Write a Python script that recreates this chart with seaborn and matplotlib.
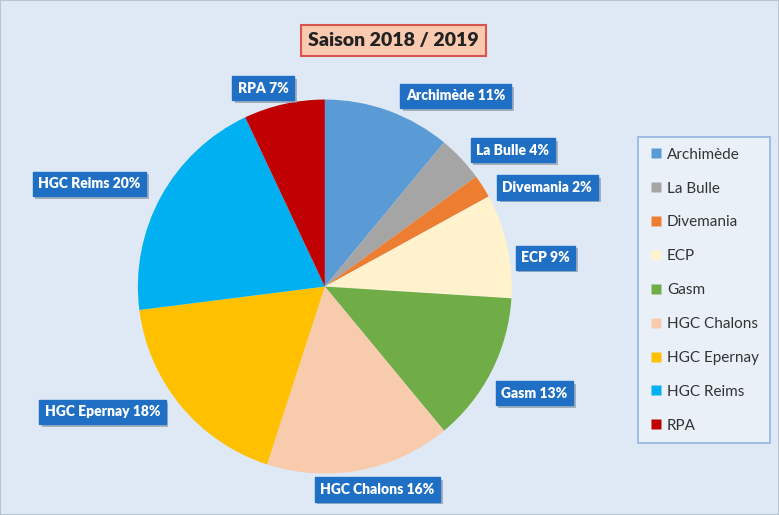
import matplotlib
matplotlib.use("Agg")
import matplotlib.pyplot as plt
import matplotlib.patheffects as pe
import seaborn as sns
from matplotlib.patches import Rectangle
from matplotlib.lines import Line2D

categories = ["Archimède", "La Bulle", "Divemania", "ECP", "Gasm",
              "HGC Chalons", "HGC Epernay", "HGC Reims", "RPA"]
values = [11, 4, 2, 9, 13, 16, 18, 20, 7]
colors = ["#5b9bd5", "#a5a5a5", "#ed7d31", "#fff2cc", "#70ad47",
          "#f8cbad", "#ffc000", "#00b0f0", "#c00000"]
title = "Saison 2018 / 2019"

# label positions (layout, in pie radius units)
label_pos = [(0.70, 1.02), (1.005, 0.73), (1.19, 0.53), (1.18, 0.155),
             (1.12, -0.57), (0.28, -1.085), (-1.19, -0.67), (-1.26, 0.55),
             (-0.33, 1.06)]

sns.set_theme(style="white")
plt.rcParams["font.family"] = ["Lato", "DejaVu Sans"]

bg = "#dfe9f5"
fig = plt.figure(figsize=(7.79, 5.15), dpi=100, facecolor=bg)
fig.patches.append(Rectangle((0, 0), 1, 1, transform=fig.transFigure,
                             fill=False, edgecolor="#b8c4d0", linewidth=1.5))

ax = fig.add_axes([0.009, 0.0078, 0.816, 0.926])
ax.set_facecolor("none")
palette = sns.color_palette(colors)
wedges, _ = ax.pie(values, colors=palette, startangle=90, counterclock=False,
                   radius=1.0, wedgeprops=dict(edgecolor="none"))
ax.set_xlim(-1.7, 1.7)
ax.set_ylim(-1.2, 1.35)
ax.set_aspect("auto")
ax.axis("off")

for cat, v, (x, y) in zip(categories, values, label_pos):
    t = ax.text(x, y, f"{cat} {v}%", ha="center", va="center", color="white",
                fontsize=10, fontweight="heavy",
                bbox=dict(boxstyle="square,pad=0.4", facecolor="#1f6fc4",
                          edgecolor="#1f6fc4"))
    t.get_bbox_patch().set_path_effects([
        pe.SimplePatchShadow(offset=(2, -2), shadow_rgbFace="#7f8a99", alpha=0.6),
        pe.Normal()])

fig.text(0.505, 0.921, title, ha="center", va="center", fontsize=14,
         fontweight="heavy", color="#222222",
         bbox=dict(boxstyle="square,pad=0.35", facecolor="#f9c9b0",
                   edgecolor="#d9534f", linewidth=1.5))

handles = [Line2D([0], [0], marker="s", linestyle="none", markersize=7,
                  markerfacecolor=c, markeredgecolor="none") for c in palette]
leg = fig.legend(handles, categories, loc="upper left",
                 bbox_to_anchor=(0.819, 0.734), frameon=True, fontsize=11,
                 labelspacing=1.3, handletextpad=0.3, handlelength=0.9,
                 borderpad=0.7, borderaxespad=0, fancybox=False)
leg.get_frame().set_facecolor("#eef3fa")
leg.get_frame().set_edgecolor("#7ea6d8")
leg.get_frame().set_linewidth(1.2)
for txt in leg.get_texts():
    txt.set_color("#333333")

fig.savefig("out.png", dpi=100, facecolor=bg)
